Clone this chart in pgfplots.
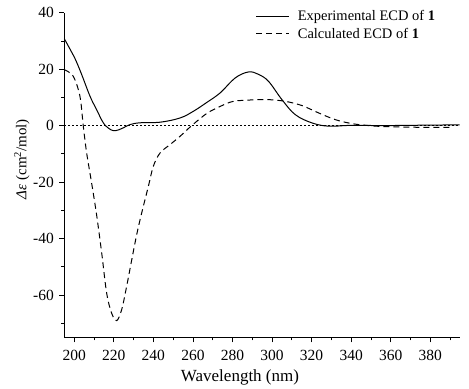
\documentclass[border=0pt]{standalone}
\usepackage{pgfplots}
\pgfplotsset{compat=1.18}
\usepackage{fontspec}
\setmainfont{Liberation Serif}
\begin{document}
\begin{tikzpicture}
\begin{axis}[
  at={(0,0)}, anchor=south west,
  scale only axis,
  width=395.7bp, height=324.6bp,
  xmin=195, xmax=395, ymin=-75, ymax=40,
  axis x line*=bottom, axis y line*=left,
  axis line style={line width=0.8bp},
  xtick={200,220,...,380}, ytick={-60,-40,...,40},
  minor xtick={210,230,...,390}, minor ytick={-70,-50,...,30},
  tick align=outside,
  major tick length=5bp, minor tick length=3bp,
  tick style={line width=0.8bp, black},
  /pgf/number format/assume math mode=true,
  ticklabel style={font=\fontsize{15.5bp}{17bp}\selectfont},
  xticklabel style={yshift=-4bp},
  yticklabel style={xshift=-2bp},
  xlabel={Wavelength (nm)},
  ylabel={\textit{Δε} (cm\textsuperscript{2}/mol)},
  xlabel style={font=\fontsize{17bp}{19bp}\selectfont, at={(axis description cs:0.444,0)}, anchor=base, yshift=-44.5bp},
  ylabel style={font=\fontsize{15bp}{17bp}\selectfont, at={(axis description cs:-0.096,0.549)}, anchor=base},
  legend style={at={(0.476,1.02)}, anchor=north west, draw=none, fill=none,
    font=\fontsize{14.5bp}{17bp}\selectfont, row sep=2bp,
    legend cell align=left},
  legend image code/.code={\draw[#1] (0bp,0bp) -- (33bp,0bp); \path (39bp,0bp);},
  clip=false,
]
\addplot[black, line width=0.5bp, dash pattern=on 2bp off 2bp, forget plot] coordinates {(195,0) (395,0)};
\addplot[black, line width=1bp, smooth, tension=0.6] coordinates {
(195,30.8) (197.8,27.2) (200.5,23.6) (203.5,18.6) (208,10.4) (211.3,5.7) (214.7,1.0) (217.5,-1.0) (219.9,-1.8)
(222.5,-1.5) (224.8,-0.8) (228.2,0.35) (233.3,1.0) (243.4,1.2) (253.5,2.7) (260.3,5.1)
(267,8.2) (273.8,11.6) (281.4,16.9) (288.1,19.0) (293,18.2) (298.2,15.7) (305,9.2) (311.7,3.9)
(320.2,0.95) (328.6,-0.2) (340.4,0.1) (355,0.0) (370,0.1) (385,0.2) (394.8,0.3)
};
\addlegendentry{Experimental ECD of \textbf{1}}
\addplot[black, line width=1bp, dash pattern=on 6bp off 4bp, smooth, tension=0.55] coordinates {
(195,19.8) (199.5,17.5) (202.9,10.4) (204.6,-0.2) (206.3,-9.7) (208.8,-20.3) (211.3,-31.5)
(213.9,-45.1) (216.4,-59.3) (218.9,-66.4) (221.5,-69.1) (224,-65.2) (226.5,-57) (229.1,-47.5)
(231.6,-38.6) (234.1,-31) (237.5,-21.5) (240,-14.4) (243.4,-9.7) (248.5,-6.7) (253.5,-3.8)
(259.4,0) (267,4.3) (273.8,6.8) (280.5,8.6) (290,9.1) (298.2,9.2) (306.7,8.6)
(315.1,7.1) (323.5,4.5) (332,2.1) (340.4,0.7) (348.9,0) (357.3,-0.35) (374.2,-0.6) (391,-0.6)
};
\addlegendentry{Calculated ECD of \textbf{1}}
\end{axis}
\pgfresetboundingbox
\path (-64.3bp,-51.7bp) rectangle (404.7bp,337.3bp);
\end{tikzpicture}
\end{document}
